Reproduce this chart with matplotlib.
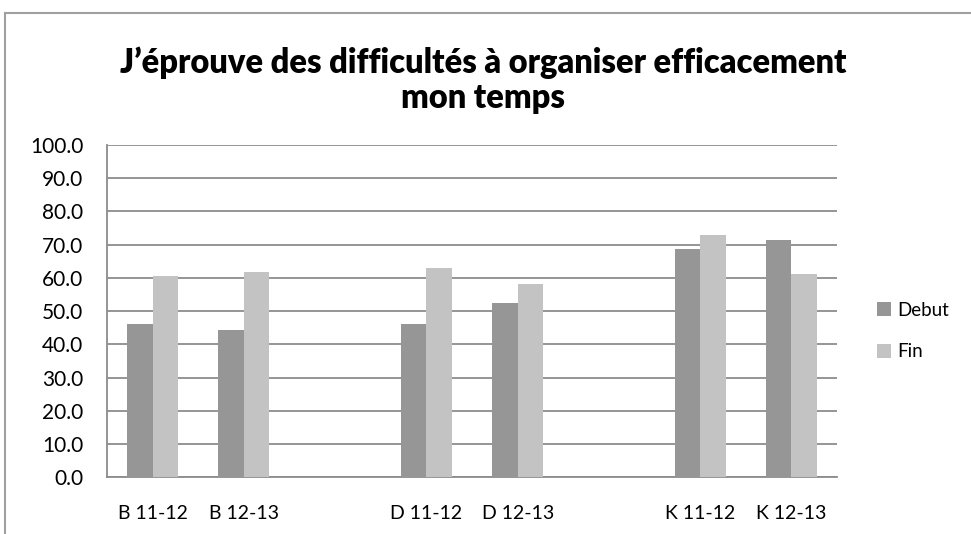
import matplotlib
matplotlib.use("Agg")
import matplotlib.pyplot as plt
import numpy as np
from matplotlib.lines import Line2D

categories = ["B 11-12", "B 12-13", "", "D 11-12", "D 12-13", "", "K 11-12", "K 12-13"]
debut = [46.1, 44.4, np.nan, 46.1, 52.6, np.nan, 68.6, 71.4]
fin = [60.7, 61.8, np.nan, 62.9, 58.2, np.nan, 73.0, 61.2]
yticks = [0, 10, 20, 30, 40, 50, 60, 70, 80, 90, 100]
title = "J\u2019éprouve des difficultés à organiser efficacement\nmon temps"

W, H = 971, 534
fig = plt.figure(figsize=(W / 100, H / 100), dpi=100)
fig.patch.set_facecolor("white")

# outer chart frame (cropped at right and bottom)
fig.add_artist(Line2D([5 / W, 1.0], [1 - 13 / H, 1 - 13 / H], color="#a0a0a0", lw=1.5, transform=fig.transFigure))
fig.add_artist(Line2D([5 / W, 5 / W], [1 - 13 / H, 0], color="#a0a0a0", lw=1.5, transform=fig.transFigure))

left, right, top, bottom = 107, 837, 145, 477.3
ax = fig.add_axes([left / W, 1 - bottom / H, (right - left) / W, (bottom - top) / H])

x = np.arange(len(categories))
bw = 0.28
ax.bar(x - bw / 2, debut, bw, color="#969696", label="Debut", zorder=3)
ax.bar(x + bw / 2, fin, bw, color="#c3c3c3", label="Fin", zorder=3)

ax.set_xlim(-0.5, len(categories) - 0.5)
ax.set_ylim(0, 100)
ax.set_yticks(yticks)
ax.set_yticklabels([f"{v:.1f}" for v in yticks], fontsize=15, family="Lato")
ax.set_xticks(x)
ax.set_xticklabels(categories, fontsize=14, family="Lato")
ax.tick_params(axis="y", length=0, pad=17)
ax.tick_params(axis="x", length=0, pad=20)

ax.yaxis.grid(True, color="#8c8c8c", lw=1.3, zorder=0)
ax.set_axisbelow(True)
for s in ["top", "right"]:
    ax.spines[s].set_visible(False)
ax.spines["left"].set_color("#8c8c8c")
ax.spines["bottom"].set_color("#8c8c8c")
ax.spines["left"].set_linewidth(1.3)
ax.spines["bottom"].set_linewidth(1.3)

fig.text(483 / W, 1 - 80 / H, title, ha="center", va="center", fontsize=23.5,
         fontweight="heavy", family="Lato", linespacing=1.12)

leg = fig.legend(loc="center left", bbox_to_anchor=(860 / W, 1 - 331 / H), frameon=False,
                 prop={"family": "Lato", "size": 13.5}, handlelength=0.75, handleheight=0.75,
                 labelspacing=1.3, handletextpad=0.35)

fig.savefig("out.png", dpi=100)
